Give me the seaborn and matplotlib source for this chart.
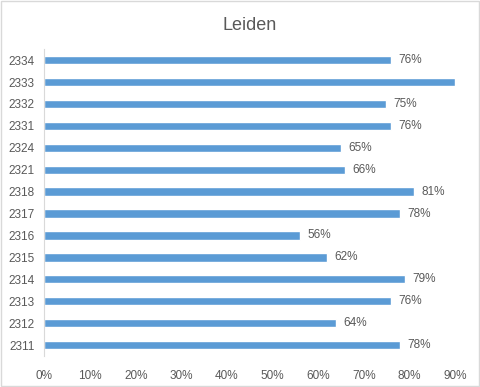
import pandas as pd
import numpy as np
import seaborn as sns
import matplotlib.pyplot as plt
from matplotlib.ticker import PercentFormatter

# Data (top to bottom as shown)
postcodes = ['2334', '2333', '2332', '2331', '2324', '2321', '2318',
             '2317', '2316', '2315', '2314', '2313', '2312', '2311']
values = [0.76, 0.90, 0.75, 0.76, 0.65, 0.66, 0.81,
          0.78, 0.56, 0.62, 0.79, 0.76, 0.64, 0.78]
xticks = [0, 0.1, 0.2, 0.3, 0.4, 0.5, 0.6, 0.7, 0.8, 0.9]

df = pd.DataFrame({'Postcode': postcodes, 'Value': values})

sns.set_style('white')
plt.rcParams['font.family'] = ['Liberation Sans', 'DejaVu Sans']
grey = '#595959'

fig = plt.figure(figsize=(4.8, 3.87), dpi=100)
ax = fig.add_axes([0.0927, 0.080, 0.855, 0.793])
sns.barplot(data=df, x='Value', y='Postcode', order=postcodes, color='#5B9BD5',
            width=0.38, saturation=1, ax=ax)

# Data labels (the 90% one falls outside the plot, so it is not shown)
for i, v in enumerate(values):
    if v < 0.9:
        ax.text(v + 0.016, i, f'{v:.0%}', va='center', ha='left', fontsize=8.5, color=grey)

ax.set_xlim(0, 0.9)
ax.set_xticks(xticks)
ax.xaxis.set_major_formatter(PercentFormatter(1.0, decimals=0))
ax.set_xlabel('')
ax.set_ylabel('')
ax.tick_params(axis='both', length=0, labelsize=8.5, colors=grey)
ax.tick_params(axis='x', pad=10)
ax.tick_params(axis='y', pad=7)
for s in ['top', 'right', 'bottom']:
    ax.spines[s].set_visible(False)
ax.spines['left'].set_color('#D9D9D9')
ax.set_title('Leiden', fontsize=13, color=grey, pad=14)

# light border around the figure
fig.patches.append(plt.Rectangle((0.002, 0.002), 0.996, 0.996, transform=fig.transFigure,
                                 fill=False, edgecolor='#D9D9D9', linewidth=1))

fig.savefig('out.png', dpi=100)
